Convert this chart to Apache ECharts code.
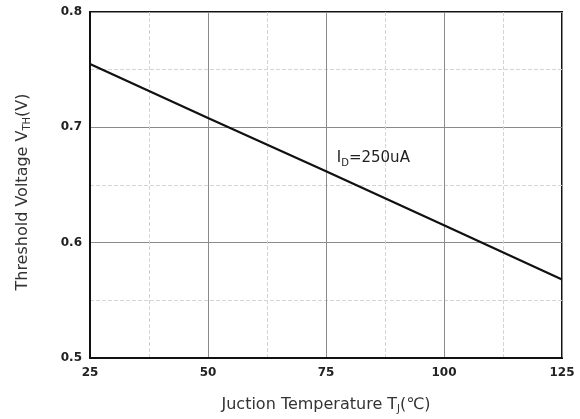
<!DOCTYPE html>
<html><head><meta charset="utf-8">
<script src="https://cdn.jsdelivr.net/npm/echarts@6/dist/echarts.min.js"></script>
<style>html,body{margin:0;padding:0;background:#fff}#c{width:580px;height:419px}</style>
</head><body><div id="c"></div>
<script>
const temps = [25, 50, 75, 100, 125];
const vth = [0.755, 0.708, 0.662, 0.615, 0.568];
const xTicks = [25, 50, 75, 100, 125];
const yTicks = [0.5, 0.6, 0.7, 0.8];
const noteText = ['I', 'D', '=250uA'];

const chart = echarts.init(document.getElementById('c'), null, {renderer: 'canvas'});
const font = '"DejaVu Sans", "Liberation Sans", Arial, sans-serif';
const subStyle = {fontSize: 10, verticalAlign: 'bottom', padding: [9, 0, 0, 0], color: '#333', fontFamily: font};
chart.setOption({
  animation: false,
  grid: {left: 90, top: 12, right: 18, bottom: 61, show: true, borderColor: '#111', borderWidth: 2, backgroundColor: 'transparent'},
  xAxis: {
    type: 'value', min: 25, max: 125, interval: 25,
    name: 'Juction Temperature T{sub|J}(℃)',
    nameLocation: 'middle', nameGap: 37,
    nameTextStyle: {color: '#333', fontSize: 16, fontFamily: font, rich: {sub: subStyle}},
    axisLine: {show: true, lineStyle: {color: '#111', width: 2}},
    axisTick: {show: false},
    axisLabel: {color: '#222', fontSize: 12, fontWeight: 'bold', fontFamily: font, margin: 9},
    splitLine: {show: true, lineStyle: {color: '#8a8a8a', width: 1}},
    minorTick: {show: false, splitNumber: 2},
    minorSplitLine: {show: true, lineStyle: {color: '#d4d4d4', type: 'dashed', width: 1}}
  },
  yAxis: {
    type: 'value', min: 0.5, max: 0.8, interval: 0.1,
    name: 'Threshold Voltage V{sub|TH}(V)',
    nameLocation: 'middle', nameGap: 58, nameRotate: 90,
    nameTextStyle: {color: '#333', fontSize: 16, fontFamily: font, padding: [0, 14, 0, 0], rich: {sub: subStyle}},
    axisLine: {show: true, lineStyle: {color: '#111', width: 2}},
    axisTick: {show: false},
    axisLabel: {color: '#222', fontSize: 12, fontWeight: 'bold', fontFamily: font, margin: 8,
      formatter: v => v.toFixed(1)},
    splitLine: {show: true, lineStyle: {color: '#8a8a8a', width: 1}},
    minorTick: {show: false, splitNumber: 2},
    minorSplitLine: {show: true, lineStyle: {color: '#d4d4d4', type: 'dashed', width: 1}}
  },
  series: [{
    type: 'line',
    data: temps.map((t, i) => [t, vth[i]]),
    symbol: 'none',
    lineStyle: {color: '#111', width: 2.2},
    markPoint: {
      symbol: 'circle', symbolSize: 0,
      data: [{coord: [77.5, 0.673], value: 0}],
      label: {show: true, position: 'right', offset: [-6, 0],
        formatter: '{a|' + noteText[0] + '}{b|' + noteText[1] + '}{a|' + noteText[2] + '}',
        rich: {a: {fontSize: 15, color: '#222', fontFamily: font}, b: {fontSize: 10, color: '#222', fontFamily: font, verticalAlign: 'bottom', padding: [10, 0, 0, 0]}}}
    }
  }]
});
</script></body></html>
